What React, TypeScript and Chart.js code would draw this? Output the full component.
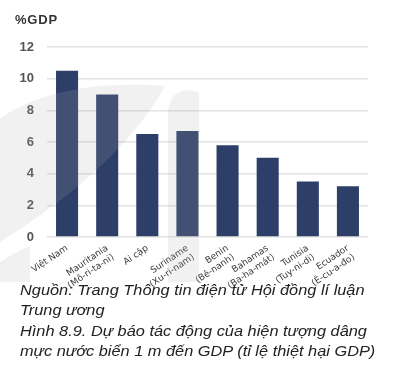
import React, { useEffect, useRef } from "react";
import { Chart, registerables } from "chart.js";

Chart.register(...registerables);

const categories: (string | string[])[] = [
  "Việt Nam",
  ["Mauritania", "(Mô-ri-ta-ni)"],
  "Ai cập",
  ["Suriname", "(Xu-ri-nam)"],
  ["Benin", "(Bê-nanh)"],
  ["Bahamas", "(Ba-ha-mát)"],
  ["Tunisia", "(Tuy-ni-di)"],
  ["Ecuador", "(Ê-cu-a-đo)"],
];
const gdpLoss = [10.5, 9.0, 6.5, 6.7, 5.8, 5.0, 3.5, 3.2];
const yTicks = [0, 2, 4, 6, 8, 10, 12];
const unitLabel = "%GDP";
const sourceLines = ["Nguồn: Trang Thông tin điện tử Hội đồng lí luận", "Trung ương"];
const captionLines = [
  "Hình 8.9. Dự báo tác động của hiện tượng dâng",
  "mực nước biển 1 m đến GDP (tỉ lệ thiệt hại GDP)",
];

const FONT = "'Liberation Sans', Arial, sans-serif";

// faint publisher watermark drawn over the plot
const watermark = {
  id: "watermark",
  afterDatasetsDraw(chart: any) {
    const ctx = chart.ctx as CanvasRenderingContext2D;
    ctx.save();
    ctx.fillStyle = "rgba(172,172,172,0.17)";
    ctx.beginPath();
    ctx.moveTo(0, 118);
    ctx.quadraticCurveTo(60, 78, 165, 86);
    ctx.bezierCurveTo(130, 150, 60, 205, 0, 242);
    ctx.closePath();
    ctx.fill();
    ctx.beginPath();
    ctx.moveTo(168, 282);
    ctx.lineTo(168, 112);
    ctx.quadraticCurveTo(170, 92, 186, 90);
    ctx.lineTo(199, 92);
    ctx.lineTo(199, 282);
    ctx.closePath();
    ctx.fill();
    ctx.beginPath();
    ctx.moveTo(0, 262);
    ctx.quadraticCurveTo(15, 252, 30, 246);
    ctx.lineTo(30, 282);
    ctx.lineTo(0, 282);
    ctx.closePath();
    ctx.fill();
    ctx.restore();
  },
};

export default function App() {
  const ref = useRef<HTMLCanvasElement | null>(null);
  useEffect(() => {
    if (!ref.current) return;
    const chart = new Chart(ref.current, {
      type: "bar",
      data: {
        labels: categories,
        datasets: [
          {
            data: gdpLoss,
            backgroundColor: "#2d3f68",
            borderWidth: 0,
            categoryPercentage: 1,
            barPercentage: 0.55,
          },
        ],
      },
      options: {
        animation: false,
        responsive: false,
        maintainAspectRatio: false,
        layout: { padding: { top: 47, right: 27, left: 0, bottom: 0 } },
        plugins: { legend: { display: false }, tooltip: { enabled: false } },
        scales: {
          x: {
            grid: { display: false },
            border: { display: false },
            ticks: {
              minRotation: 34,
              maxRotation: 34,
              autoSkip: false,
              padding: -2,
              color: "#3a3a3a",
              font: { family: "'DejaVu Sans', sans-serif", size: 9 },
            },
            afterFit: (s: any) => {
              s.height = 63;
            },
          },
          y: {
            min: 0,
            max: 12,
            afterBuildTicks: (s: any) => {
              s.ticks = yTicks.map((v) => ({ value: v }));
            },
            grid: { color: "#e2e2e2", lineWidth: 1.5, drawTicks: false },
            border: { display: false },
            ticks: {
              padding: 13,
              color: "#555",
              font: { family: FONT, size: 13, weight: "bold" },
            },
            afterFit: (s: any) => {
              s.width = 47;
            },
          },
        },
      },
      plugins: [watermark],
    });
    return () => chart.destroy();
  }, []);

  const lineStyle: React.CSSProperties = {
    whiteSpace: "nowrap",
    transform: "scaleX(1.09)",
    transformOrigin: "0 0",
    height: 19.5,
  };

  return (
    <div
      style={{
        position: "absolute",
        left: 0,
        top: 0,
        width: 395,
        height: 366,
        background: "#fff",
        overflow: "hidden",
      }}
    >
      <canvas ref={ref} width={395} height={300} style={{ display: "block" }} />
      <div
        style={{
          position: "absolute",
          left: 15,
          top: 12,
          fontFamily: FONT,
          fontWeight: "bold",
          fontSize: 13,
          letterSpacing: 0.8,
          color: "#333",
        }}
      >
        {unitLabel}
      </div>
      <div
        style={{
          position: "absolute",
          left: 20,
          top: 280,
          fontFamily: FONT,
          fontStyle: "italic",
          fontSize: 15,
          lineHeight: "19.5px",
          color: "#222",
        }}
      >
        {sourceLines.map((t, i) => (
          <div key={"s" + i} style={lineStyle}>
            {t}
          </div>
        ))}
        <div style={{ height: 2 }} />
        {captionLines.map((t, i) => (
          <div key={"c" + i} style={lineStyle}>
            {t}
          </div>
        ))}
      </div>
    </div>
  );
}
